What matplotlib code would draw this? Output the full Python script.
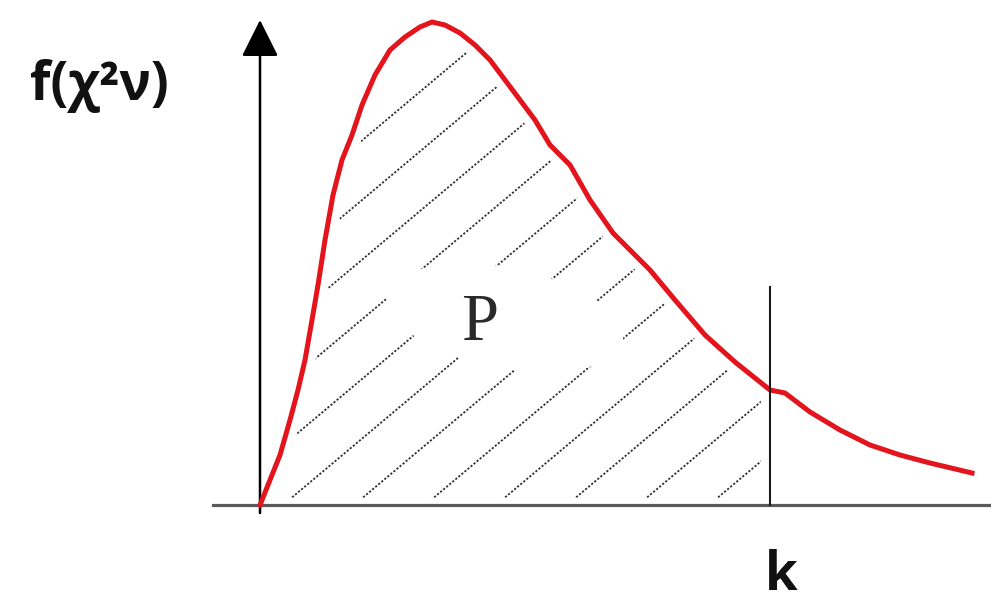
import matplotlib
matplotlib.use("Agg")
import matplotlib.pyplot as plt
import numpy as np
from matplotlib.patches import Ellipse, Polygon
from matplotlib.transforms import Affine2D

# chi-square style density curve (arbitrary units)
chi_x = [0.0, 0.2, 0.4, 0.6, 0.76, 0.9, 1.04, 1.16, 1.3, 1.46, 1.64, 1.84,
         2.04, 2.3, 2.6, 2.9, 3.2, 3.44, 3.7, 4.0, 4.3, 4.6, 4.9, 5.2, 5.5,
         5.8, 6.2, 6.6, 7.06, 7.4, 7.8, 8.3, 8.9, 9.5, 10.2, 10.5, 11.0,
         11.6, 12.2, 12.8, 13.4, 14.24]
chi_f = [0.0, 0.0125, 0.025, 0.0425, 0.0575, 0.0725, 0.0925, 0.11, 0.1325,
         0.155, 0.1725, 0.185, 0.2, 0.215, 0.2275, 0.234, 0.239, 0.2415,
         0.24, 0.236, 0.23, 0.2225, 0.2125, 0.2025, 0.1925, 0.18, 0.17,
         0.1525, 0.136, 0.1275, 0.1175, 0.1025, 0.085, 0.0715, 0.0575,
         0.056, 0.0465, 0.0375, 0.03, 0.025, 0.021, 0.016]
k_value = 10.2
k_line_top = 0.109

y_label = "f(χ²ν)"
area_label = "P"
k_label = "k"

x = np.array(chi_x)
f = np.array(chi_f)

fig = plt.figure(figsize=(9.91, 6.05), dpi=100)
ax = fig.add_axes([0, 0, 1, 1])
ax.set_xlim(-5.2, 14.62)
ax.set_ylim(-0.05, 0.2525)
ax.axis("off")

# shaded region P under the curve up to k
mask = x <= k_value
region = np.vstack([np.column_stack([x[mask], f[mask]]), [[k_value, 0.0], [0.0, 0.0]]])
clip = Polygon(region, closed=True, facecolor="none", edgecolor="none")
ax.add_patch(clip)

# hand-drawn looking dotted hatch (40 deg, wide spacing)
slope = 0.021
for x0 in 0.46 + 1.42 * np.arange(-9, 9):
    hx = np.array([x0, x0 + 0.27 / slope])
    ln, = ax.plot(hx, slope * (hx - x0), color="#303030", lw=1.3,
                  ls=(0, (1.2, 1.0)), zorder=1)
    ln.set_clip_path(clip)

# keep the hatch away from the borders, and open a gap around P
ax.plot(x, f, color="white", lw=15, solid_capstyle="round", zorder=2)
ax.plot([-0.5, 14.6], [0, 0], color="white", lw=11, zorder=2)
ax.plot([k_value, k_value], [0, k_line_top], color="white", lw=14, zorder=2)
cx, cy = ax.transData.transform((4.9, (505 - 318) / 2000))
gap = Ellipse((0, 0), 240, 100, angle=-11, facecolor="white", edgecolor="none",
              transform=Affine2D().translate(cx, cy), zorder=2)
ax.add_patch(gap)

# axes
ax.plot([-0.94, 14.6], [0, 0], color="#5a5a5a", lw=2.3, zorder=3)
ax.annotate("", xy=(0, (505 - 20) / 2000), xytext=(0, -0.004),
            arrowprops=dict(arrowstyle="-|>,head_length=1.0,head_width=0.5",
                            mutation_scale=23, color="black", lw=1.8,
                            shrinkA=0, shrinkB=0),
            zorder=3)

# density curve and k marker
ax.plot(x, f, color="#e3141b", lw=3.6, solid_joinstyle="round", zorder=4)
ax.plot([k_value, k_value], [0, k_line_top], color="#1a1a1a", lw=1.5, zorder=5)

font = ["Open Sans", "DejaVu Sans"]
ax.text(-4.6, (505 - 100) / 2000, y_label, family=font, fontweight="bold",
        fontsize=38, ha="left", va="baseline", color="#111111")
ax.text(10.42, (505 - 590) / 2000, k_label, family=font, fontweight="bold",
        fontsize=38, ha="center", va="baseline", color="#111111")
ax.text(4.4, (505 - 340) / 2000, area_label,
        family=["Liberation Serif", "DejaVu Serif"],
        fontsize=48, ha="center", va="baseline", color="#2a2a2a", zorder=6)

fig.savefig("out.png", dpi=100, facecolor="white")
